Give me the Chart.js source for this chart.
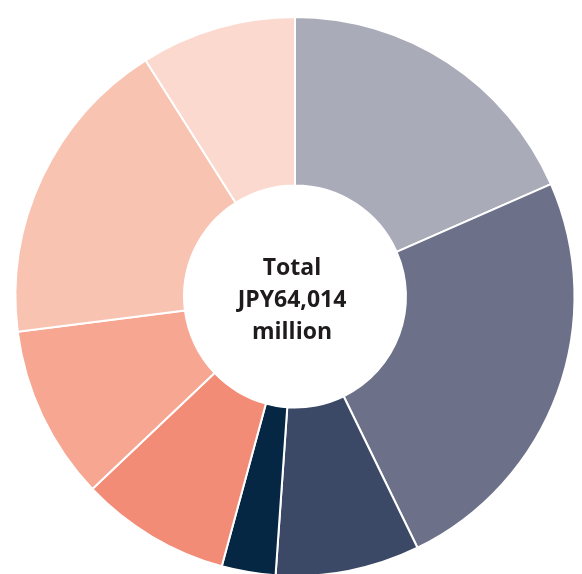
<!DOCTYPE html>
<html>
<head>
<meta charset="utf-8">
<script src="https://cdn.jsdelivr.net/npm/chart.js@4/dist/chart.umd.min.js"></script>
<style>
html,body{margin:0;padding:0;background:#fff;overflow:hidden;width:582px;height:574px;}
#wrap{position:absolute;left:0;top:0;width:582px;height:593px;}
</style>
</head>
<body>
<div id="wrap"><canvas id="c" width="582" height="593"></canvas></div>
<script>
const categories = ["Segment A","Segment B","Segment C","Segment D","Segment E","Segment F","Segment G","Segment H"];
const values = [11791, 15594, 5332, 1991, 5563, 6453, 11542, 5748];
const colors = ["#A9ABB8","#6C7189","#3B4966","#062744","#F28C76","#F6A691","#F9C3B2","#FCD9CE"];
const centerLines = ["Total","JPY64,014","million"];

const centerText = {
  id:'centerText',
  afterDraw(chart){
    const meta = chart.getDatasetMeta(0);
    const arc = meta.data[0];
    const cx = arc.x, cy = arc.y;
    const ctx = chart.ctx;
    ctx.save();
    ctx.fillStyle = "#1F1B1C";
    ctx.font = "bold 23px 'Open Sans'";
    ctx.textAlign = "center";
    ctx.textBaseline = "middle";
    const lh = 32;
    centerLines.forEach((t,i)=>{
      ctx.fillText(t, cx - 3, cy + (i-1)*lh + 4);
    });
    ctx.restore();
  }
};

new Chart(document.getElementById('c'), {
  type:'doughnut',
  data:{
    labels:categories,
    datasets:[{
      data:values,
      backgroundColor:colors,
      borderColor:"#ffffff",
      borderWidth:2
    }]
  },
  options:{
    responsive:false,
    animation:false,
    cutout:'39.7%',
    layout:{padding:{left:14,right:6,top:16,bottom:16}},
    plugins:{legend:{display:false},tooltip:{enabled:false}}
  },
  plugins:[centerText]
});
</script>
</body>
</html>
